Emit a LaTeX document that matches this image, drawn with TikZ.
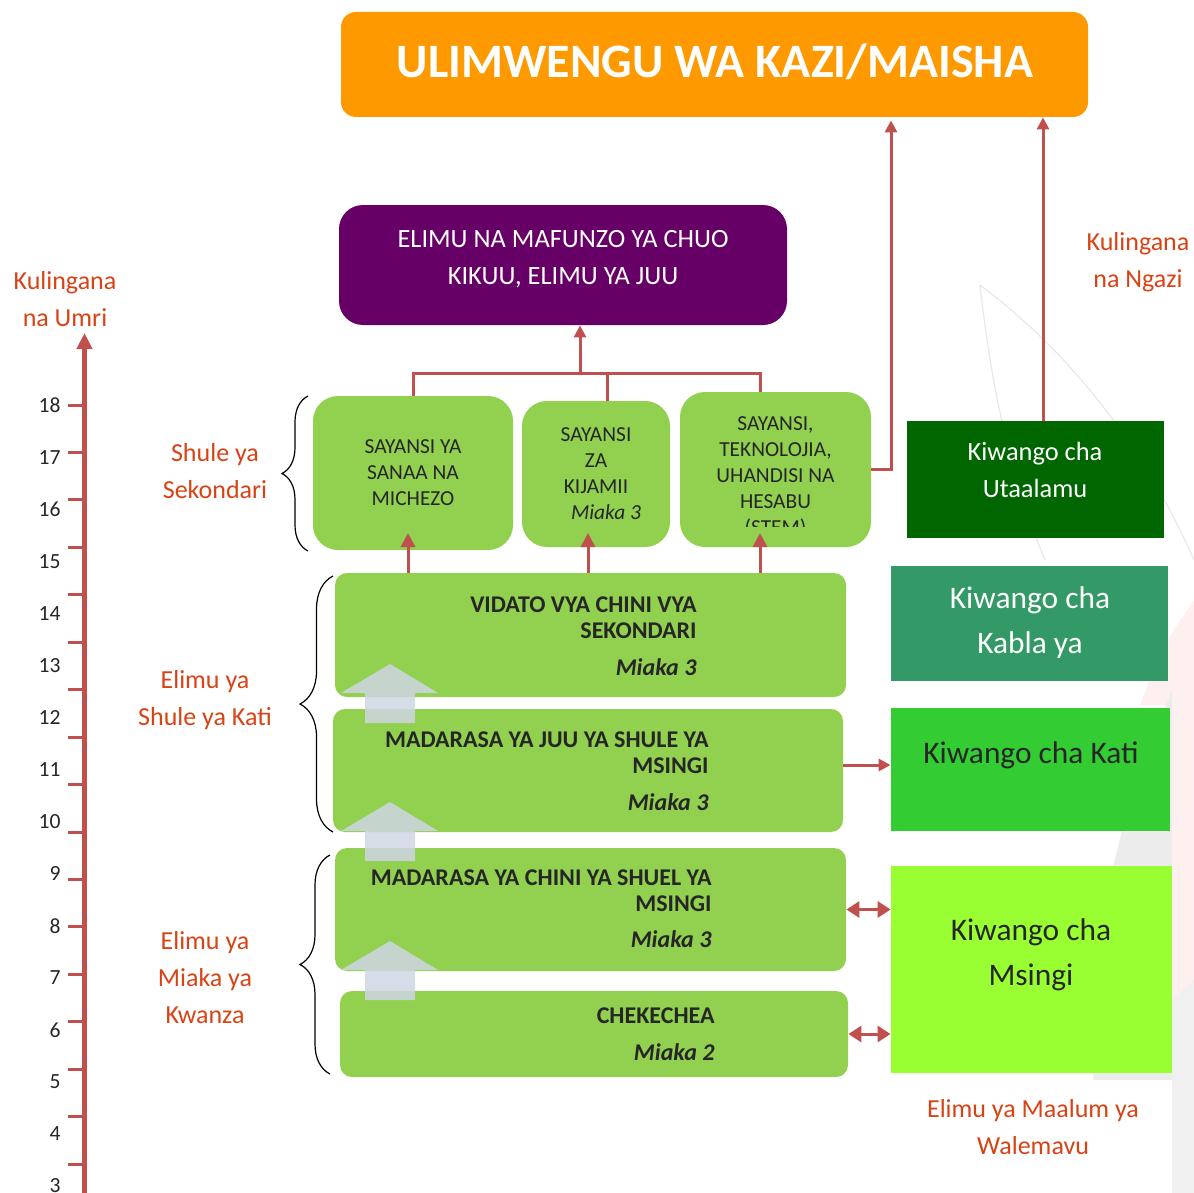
\documentclass[tikz,border=0pt]{standalone}
\usepackage{fontspec}
\setmainfont{Carlito}
\usetikzlibrary{positioning}
\usetikzlibrary{arrows.meta}
\usetikzlibrary{decorations.pathreplacing}

\definecolor{kaziorange}{RGB}{255,153,0}
\definecolor{chuopurple}{RGB}{102,0,102}
\definecolor{stagegreen}{RGB}{146,208,80}
\definecolor{utaalamugreen}{RGB}{0,102,0}
\definecolor{kablagreen}{RGB}{51,153,102}
\definecolor{katigreen}{RGB}{51,204,51}
\definecolor{msingigreen}{RGB}{153,255,51}
\definecolor{connred}{RGB}{192,80,77}
\definecolor{notered}{RGB}{216,67,21}
\definecolor{liftblue}{RGB}{207,214,228}
\definecolor{inkdark}{RGB}{38,38,38}

\begin{document}
\begin{tikzpicture}
    [
    x=0.5pt, y=-0.5pt,
    every node/.style={inner sep=0pt, text=inkdark},
    stage/.style={rectangle, rounded corners=6pt, fill=stagegreen},
    stagetext/.style={anchor=north east, align=right, font=\fontsize{12}{13}\selectfont\bfseries},
    stream/.style={rectangle, rounded corners=12.5pt, fill=stagegreen, align=center, font=\fontsize{10.7}{13}\selectfont},
    tier/.style={rectangle},
    tiertext/.style={align=center, font=\fontsize{15.7}{22.5}\selectfont},
    note/.style={text=notered, align=center, font=\fontsize{13}{18.5}\selectfont},
    age/.style={anchor=east, font=\fontsize{10.8}{12}\selectfont},
    conn/.style={draw=connred, line width=1.5pt},
    tri/.style={-{Triangle[length=6pt, width=6pt]}},
    bitri/.style={{Triangle[length=6.5pt, width=8pt]}-{Triangle[length=6.5pt, width=8pt]}},
    lift/.style={fill=liftblue, fill opacity=0.85},
    grp/.style={draw=black, line width=0.6pt, decorate},
    ]

    \useasboundingbox (0,0) rectangle (1194,1193);

    % faint background marks
    \fill[red!6] (1140,705) .. controls (1160,650) .. (1194,600) -- (1194,1193) -- (1172,1193) -- (1172,705) -- cycle;
    \fill[gray!15] (1093,1080) .. controls (1093,930) and (1110,840) .. (1172,690) -- (1172,1080) -- cycle;
    \fill[gray!12] (1172,1000) -- (1194,980) -- (1194,1193) -- (1172,1193) -- cycle;
    \draw[gray!18, line width=0.6pt] (980,285) .. controls (995,420) and (1020,500) .. (1045,560);
    \draw[gray!18, line width=0.6pt] (980,285) .. controls (1080,360) and (1150,460) .. (1194,560);

    \node[rectangle, rounded corners=7.5pt, fill=kaziorange, minimum width=373.5pt, minimum height=52.5pt] (kazi) at (714.5,64.5) {};
    \node[anchor=base, text=white, font=\fontsize{24}{28}\selectfont\bfseries] (kazi-t) at (715,78) {ULIMWENGU WA KAZI/MAISHA};

    \node[rectangle, rounded corners=12pt, fill=chuopurple, minimum width=224pt, minimum height=60pt] (chuo) at (563,265) {};
    \node[text=white, align=center, font=\fontsize{13.2}{18.5}\selectfont] (chuo-t) at (563,259.5) {ELIMU NA MAFUNZO YA CHUO\\KIKUU, ELIMU YA JUU};

    \node[stream, minimum width=100pt, minimum height=77pt] (sanaa) at (413,473) {SAYANSI YA\\SANAA NA\\MICHEZO};
    \node[stream, minimum width=74pt, minimum height=73pt] (kijamii) at (596,474) {SAYANSI\\ZA\\KIJAMII\\\hspace*{10pt}\textit{Miaka 3}};
    \node[stream, minimum width=95.5pt, minimum height=77.5pt] (stem) at (775.5,469.5) {};
    \begin{scope}
        \clip (680,392) rectangle (871,526);
        \node[align=center, font=\fontsize{10.7}{13}\selectfont] (stem-t) at (775.5,477) {SAYANSI,\\TEKNOLOJIA,\\UHANDISI NA\\HESABU\\(STEM)};
    \end{scope}

    \node[stage, minimum width=255.5pt, minimum height=62pt] (vidato) at (590.5,635) {};
    \node[stagetext] (vidato-t) at (697,596) {VIDATO VYA CHINI VYA\\SEKONDARI\\[5.5pt]\textit{Miaka 3}};
    \node[stage, minimum width=255pt, minimum height=61.5pt] (juu) at (588,770.5) {};
    \node[stagetext] (juu-t) at (709,731.5) {MADARASA YA JUU YA SHULE YA\\MSINGI\\[5.5pt]\textit{Miaka 3}};
    \node[stage, minimum width=255.5pt, minimum height=61.5pt] (chini) at (590.5,909.5) {};
    \node[stagetext] (chini-t) at (712,869.5) {MADARASA YA CHINI YA SHUEL YA\\MSINGI\\[5pt]\textit{Miaka 3}};
    \node[stage, minimum width=254pt, minimum height=43pt] (chekechea) at (594,1034) {};
    \node[stagetext] (chekechea-t) at (715,1007.5) {CHEKECHEA\\[5.5pt]\textit{Miaka 2}};

    \node[tier, fill=utaalamugreen, minimum width=128.5pt, minimum height=58.5pt] (utaalamu) at (1035.5,479.5) {};
    \node[text=white, align=center, font=\fontsize{13.2}{18.5}\selectfont] (utaalamu-t) at (1035,469.5) {Kiwango cha\\Utaalamu};
    \node[tier, fill=kablagreen, minimum width=138.5pt, minimum height=57.5pt] (kabla) at (1029.5,623.5) {};
    \node[tiertext, text=white] (kabla-t) at (1030,622.5) {Kiwango cha\\Kabla ya};
    \node[tier, fill=katigreen, minimum width=139.5pt, minimum height=61.5pt] (kati) at (1030.5,769.5) {};
    \node[tiertext] (kati-t) at (1031,755) {Kiwango cha Kati};
    \node[tier, fill=msingigreen, minimum width=140.5pt, minimum height=103.5pt] (msingi) at (1031.5,969.5) {};
    \node[tiertext] (msingi-t) at (1031,954.5) {Kiwango cha\\Msingi};

    \node[note] (umri-t) at (65,299.5) {Kulingana\\na Umri};
    \node[note] (ngazi-t) at (1138,262.5) {Kulingana\\na Ngazi};
    \node[note] (sekondari-t) at (215,471.5) {Shule ya\\Sekondari};
    \node[note] (kati-l) at (205,700.5) {Elimu ya\\Shule ya Kati};
    \node[note] (kwanza-l) at (205,978) {Elimu ya\\Miaka ya\\Kwanza};
    \node[note] (walemavu-l) at (1033,1127.5) {Elimu ya Maalum ya\\Walemavu};

    \draw[grp, decoration={brace, amplitude=13pt}] (308,551) -- (308,396);
    \draw[grp, decoration={brace, amplitude=16.5pt}] (333,832) -- (333,576);
    \draw[grp, decoration={brace, amplitude=15pt}] (330,1074) -- (330,855);

    \coordinate (fork) at (580,373);
    \coordinate (forkl) at (413,373);
    \coordinate (forkm) at (607,373);
    \coordinate (forkr) at (760,373);
    \draw[conn, tri] (fork) -- (fork |- chuo.south);
    \draw[conn] (sanaa.north) -- (forkl) -- (forkr) -- (forkr |- stem.north);
    \draw[conn] (forkm) -- (forkm |- kijamii.north);

    \coordinate (stemturn) at (891,469.5);
    \draw[conn, tri] (stem.east) -- (stemturn) -- ([yshift=-1.5pt]stemturn |- kazi.south);
    \draw[conn, tri] ([xshift=3.75pt]utaalamu.north) -- ([xshift=3.75pt]utaalamu.north |- kazi.south);

    \foreach \x in {408,588,760}
        \draw[conn, -{Triangle[length=7pt, width=7pt]}] (\x,0 |- vidato.north) -- (\x,533);

    \draw[conn, tri] ([yshift=2.75pt]juu.east) -- ([yshift=2.75pt]juu.east -| kati.west);
    \draw[conn, bitri] (chini.east) -- (chini.east -| msingi.west);
    \draw[conn, bitri] (chekechea.east) -- (chekechea.east -| msingi.west);

    \foreach \t in {664,802,941}
        \fill[lift] (390,\t) -- (438,{\t+29}) -- (415,{\t+29}) -- (415,{\t+59}) -- (365,{\t+59}) -- (365,{\t+29}) -- (341,{\t+29}) -- cycle;

    \coordinate (umri) at (84.5,333);
    \draw[draw=connred, line width=2.5pt, -{Triangle[length=8pt, width=7.5pt]}] (84.5,1193) -- (umri);
    \foreach \k in {0,...,16}
        \draw[draw=connred, line width=1.5pt] (68,{405+47.45*\k}) -- (84,{405+47.45*\k});
    \foreach \a [count=\k from 0] in {18,17,...,3}
        \node[age] (age\a) at (61,{405+52.07*\k}) {\a};
\end{tikzpicture}
\end{document}
